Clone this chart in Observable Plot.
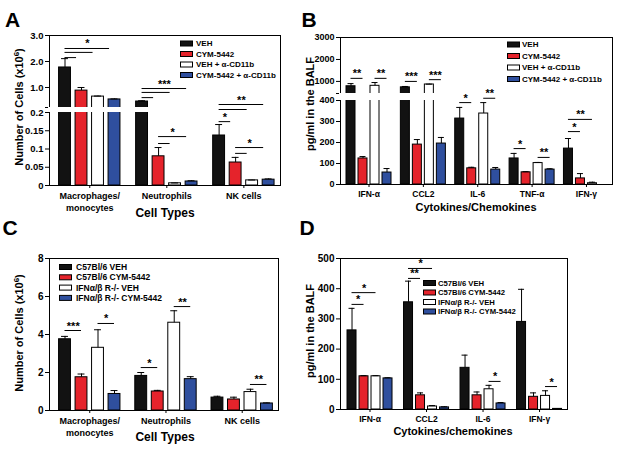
<!DOCTYPE html>
<html><head><meta charset="utf-8">
<script src="https://cdn.jsdelivr.net/npm/d3@7"></script>
<script src="https://cdn.jsdelivr.net/npm/@observablehq/plot@0.6"></script>
<style>
body{margin:0;background:#fff;}
#root{position:relative;width:617px;height:451px;overflow:hidden;background:#fff;font-family:"Liberation Sans",Arial,sans-serif;}
.panel{position:absolute;}
#overlay{position:absolute;left:0;top:0;pointer-events:none;font-family:"Liberation Sans",Arial,sans-serif;font-weight:bold;}
</style></head><body><div id="root">
<div class="panel" id="pA" style="left:0;top:0"></div>
<div class="panel" id="pB" style="left:300px;top:0"></div>
<div class="panel" id="pC" style="left:0;top:225px"></div>
<div class="panel" id="pD" style="left:300px;top:225px"></div>
<svg id="overlay" width="617" height="451"></svg>
</div>
<script>
// ---------- data ----------
const cellTypes = ["Macrophages/\nmonocytes", "Neutrophils", "NK cells"];
const treatmentsAB = ["VEH", "CYM-5442", "VEH + α-CD11b", "CYM-5442 + α-CD11b"];
const genotypesCD = ["C57Bl/6 VEH", "C57Bl/6 CYM-5442", "IFNα/β R-/- VEH", "IFNα/β R-/- CYM-5442"];
const cytokinesB = ["IFN-α", "CCL2", "IL-6", "TNF-α", "IFN-γ"];
const cytokinesD = ["IFN-α", "CCL2", "IL-6", "IFN-γ"];
const seriesColors = ["#121212", "#e5232b", "#ffffff", "#2f4f9e"];

// Panel A: number of cells (x10^6), rows = cell types, cols = treatments
const cellsAMean  = [[1.77, 0.88, 0.65, 0.54], [0.46, 0.080, 0.006, 0.011], [0.137, 0.063, 0.014, 0.016]];
const cellsAUpper = [[2.11, 1.00, 0.67, 0.56], [0.49, 0.104, 0.007, 0.013], [0.167, 0.077, 0.015, 0.018]];
// Panel B: pg/ml in BALF
const cytoBMean  = [[780, 124, 800, 57], [730, 190, 860, 195], [314, 77, 338, 71], [124, 58, 102, 71], [171, 29, 6, null]];
const cytoBUpper = [[900, 133, 950, 76], [770, 214, 875, 224], [367, 82, 390, 81], [148, 61, 105, 75], [219, 52, 11, null]];
// Panel C: number of cells (x10^6)
const cellsCMean  = [[3.75, 1.75, 3.30, 0.87], [1.82, 1.00, 4.62, 1.65], [0.68, 0.58, 0.97, 0.37]];
const cellsCUpper = [[3.90, 1.92, 4.25, 1.05], [2.00, 1.06, 5.25, 1.78], [0.75, 0.70, 1.12, 0.40]];
// Panel D: pg/ml in BALF
const cytoDMean  = [[262, 110, 110, 103], [355, 47, 10, 7], [138, 47, 67, 20], [290, 42, 45, 2]];
const cytoDUpper = [[335, 112, 112, 105], [425, 55, 13, 9], [180, 58, 80, 23], [398, 55, 62, 3]];

// significance brackets: [group, from series, to series, y value, label]
const bracketsA = [
  [0, 0, 3, 2.50, "*"], [0, 0, 2, 2.35, ""], [0, 0, 1, 2.15, ""],
  [1, 0, 3, 0.96, "***"], [1, 0, 2, 0.81, ""], [1, 0, 1, 0.61, ""],
  [1, 1, 3, 0.134, "*"], [1, 1, 2, 0.115, ""],
  [2, 0, 3, 0.345, "**"], [2, 0, 2, 0.218, ""], [2, 0, 1, 0.175, "*"],
  [2, 1, 3, 0.104, "*"], [2, 1, 2, 0.088, ""]
];
const bracketsB = [
  [0, 0, 1, 1140, "**"], [0, 2, 3, 1140, "**"],
  [1, 0, 1, 1000, "***"], [1, 2, 3, 1080, "***"],
  [2, 0, 1, 390, "*"], [2, 2, 3, 416, "**"],
  [3, 0, 1, 171, "*"], [3, 2, 3, 129, "**"],
  [4, 0, 2, 310, "**"], [4, 0, 1, 252, "*"]
];
const bracketsC = [
  [0, 0, 1, 4.21, "***"], [0, 2, 3, 4.58, "*"],
  [1, 0, 1, 2.26, "*"], [1, 2, 3, 5.47, "**"],
  [2, 2, 3, 1.37, "**"]
];
const bracketsD = [
  [0, 0, 2, 387, "*"], [0, 0, 1, 348, "*"],
  [1, 0, 2, 467, "*"], [1, 0, 1, 434, "**"],
  [2, 2, 3, 93, "*"], [3, 2, 3, 76, "*"]
];

// axis ticks
const yTicksA = [0, 0.05, 0.1, 0.15, 0.2, 1, 2, 3];
const yTickLabelsA = ["0", "0.05", "0.1", "0.15", "0.2", "1.0", "2.0", "3.0"];
const yTicksB = [0, 100, 200, 300, 400, 1000, 2000, 3000];
const yTickLabelsB = ["0", "100", "200", "300", "400", "1000", "2000", "3000"];
const yTicksC = [0, 2, 4, 6, 8];
const yTickLabelsC = ["0", "2", "4", "6", "8"];
const yTicksD = [0, 100, 200, 300, 400, 500];
const yTickLabelsD = ["0", "100", "200", "300", "400", "500"];
// broken axes: lower segment top, upper segment bottom, top
const breakA = [0.2, 0.23, 3.0];
const breakB = [400, 450, 3000];

const FONT = '"Liberation Sans", Arial, sans-serif';

function panel(cfg) {
  const {el, width, height, margin, groups, series, means, uppers, brackets,
         xDomain, stride, barHalf, capHalf, endInset, yScale, ticks, tickLabels,
         breakVals, groupFont, tickFont} = cfg;
  const bars = [];
  groups.forEach((g, gi) => series.forEach((s, si) => {
    const m = means[gi][si];
    if (m == null) return;
    bars.push({g, s, x: gi * stride + si, mean: m, upper: uppers[gi][si]});
  }));
  const br = brackets.map(([gi, a, b, yv, label]) => ({x1: gi * stride + a, x2: gi * stride + b - endInset, y: yv, label}));
  const centers = groups.map((g, gi) => ({g, x: gi * stride + (series.length - 1) / 2}));
  const allTicks = breakVals ? [...ticks, breakVals[1]] : ticks;
  const lab = new Map(ticks.map((t, i) => [t, tickLabels[i]]));
  const marks = [
    Plot.frame({stroke: "#000", strokeWidth: 1}),
    Plot.rect(bars, {x1: d => d.x - barHalf, x2: d => d.x + barHalf, y1: 0, y2: "mean", fill: "s", stroke: "#000", strokeWidth: 1}),
    Plot.ruleX(bars, {x: "x", y1: "mean", y2: "upper", stroke: "#000", strokeWidth: 1}),
    Plot.ruleY(bars, {y: "upper", x1: d => d.x - capHalf, x2: d => d.x + capHalf, stroke: "#000", strokeWidth: 1})
  ];
  if (breakVals) marks.push(Plot.rect([0], {y1: breakVals[0], y2: breakVals[1], fill: "white", insetLeft: -1, insetRight: 1}));
  marks.push(Plot.ruleY(br, {y: "y", x1: "x1", x2: "x2", stroke: "#000", strokeWidth: 1}));
  marks.push(Plot.text(br.filter(d => d.label), {x: d => (d.x1 + d.x2) / 2, y: "y", text: "label", lineAnchor: "bottom", dy: -1, fontSize: 11, fontWeight: "bold"}));
  marks.push(Plot.text(centers, {x: "x", text: "g", frameAnchor: "bottom", lineAnchor: "top", dy: 5, fontSize: groupFont, lineHeight: 1.3, fontWeight: "bold"}));
  const chart = Plot.plot({
    width, height,
    marginTop: margin[0], marginRight: margin[1], marginBottom: margin[2], marginLeft: margin[3],
    style: {fontFamily: FONT, fontWeight: "bold", fontSize: tickFont + "px", background: "transparent", overflow: "visible", color: "#000"},
    x: {type: "linear", domain: xDomain, ticks: centers.map(d => d.x), tickFormat: () => "", tickSize: 3, label: null},
    y: Object.assign({type: "linear", ticks: allTicks, tickFormat: d => lab.has(d) ? lab.get(d) : "", tickSize: 4, tickPadding: 2, label: null}, yScale),
    color: {domain: series, range: seriesColors},
    marks
  });
  document.getElementById(el).appendChild(chart);
}

panel({el: "pA", width: 300, height: 225, margin: [35, 20, 40, 49], groups: cellTypes, series: treatmentsAB,
  means: cellsAMean, uppers: cellsAUpper, brackets: bracketsA, xDomain: [-0.94, 13.06], stride: 4.67,
  barHalf: 0.36, capHalf: 0.21, endInset: 0.3,
  yScale: {domain: [0, breakA[0], breakA[1], breakA[2]], range: [185, 112, 107, 35]},
  ticks: yTicksA, tickLabels: yTickLabelsA, breakVals: breakA, groupFont: 9, tickFont: 9.5});

panel({el: "pB", width: 317, height: 225, margin: [37, 5, 41, 40], groups: cytokinesB, series: treatmentsAB,
  means: cytoBMean, uppers: cytoBUpper, brackets: bracketsB, xDomain: [-0.875, 21.79], stride: 4.53,
  barHalf: 0.375, capHalf: 0.25, endInset: 0,
  yScale: {domain: [0, breakB[0], breakB[1], breakB[2]], range: [184, 100, 93, 37]},
  ticks: yTicksB, tickLabels: yTickLabelsB, breakVals: breakB, groupFont: 8.5, tickFont: 9});

panel({el: "pC", width: 300, height: 226, margin: [33, 22, 41, 49], groups: cellTypes, series: genotypesCD,
  means: cellsCMean, uppers: cellsCUpper, brackets: bracketsC, xDomain: [-0.94, 12.94], stride: 4.62,
  barHalf: 0.36, capHalf: 0.21, endInset: 0,
  yScale: {domain: [0, 8]},
  ticks: yTicksC, tickLabels: yTickLabelsC, breakVals: null, groupFont: 9, tickFont: 10});

panel({el: "pD", width: 317, height: 226, margin: [33, 50, 42, 40], groups: cytokinesD, series: genotypesCD,
  means: cytoDMean, uppers: cytoDUpper, brackets: bracketsD, xDomain: [-0.96, 17.96], stride: 4.71,
  barHalf: 0.375, capHalf: 0.25, endInset: 0,
  yScale: {domain: [0, 500]},
  ticks: yTicksD, tickLabels: yTickLabelsD, breakVals: null, groupFont: 8.5, tickFont: 10});

// ---------- titles and legends ----------
const panelLetters = ["A", "B", "C", "D"];
const letterPos = [[12.5, 27], [309, 27], [10, 235], [307, 235]];
const xTitles = ["Cell Types", "Cytokines/Chemokines", "Cell Types", "Cytokines/chemokines"];
const xTitlePos = [[165, 217, 12], [476, 211, 11], [165, 441, 12], [453, 435, 11]];
const yTitles = [["Number of Cells (x10", "6", ")"], ["pg/ml in the BALF"], ["Number of Cells (x10", "6", ")"], ["pg/ml in the BALF"]];
const yTitlePos = [[23, 107], [314, 104], [23, 333], [314, 331]];
const legendSeries = [treatmentsAB, treatmentsAB, genotypesCD, genotypesCD];
const legendPos = [ // swatch x, text x, first row y, row step, font
  [180, 196, 43.5, 10.5, 8], [507, 522, 44.5, 11.5, 8], [59, 76, 267, 10.3, 8.5], [423, 438, 283, 9.5, 7.7]
];

const ov = d3.select("#overlay");
panelLetters.forEach((t, i) => ov.append("text").attr("x", letterPos[i][0]).attr("y", letterPos[i][1])
  .attr("text-anchor", "middle").attr("font-size", 21).text(t));
xTitles.forEach((t, i) => ov.append("text").attr("x", xTitlePos[i][0]).attr("y", xTitlePos[i][1])
  .attr("text-anchor", "middle").attr("font-size", xTitlePos[i][2]).text(t));
yTitles.forEach((parts, i) => {
  const [x, y] = yTitlePos[i];
  const t = ov.append("text").attr("transform", `translate(${x},${y}) rotate(-90)`)
    .attr("text-anchor", "middle").attr("font-size", 11);
  t.append("tspan").text(parts[0]);
  if (parts.length > 1) {
    t.append("tspan").attr("font-size", 8).attr("dy", -4).text(parts[1]);
    t.append("tspan").attr("dy", 4).text(parts[2]);
  }
});
legendSeries.forEach((ser, p) => {
  const [sx, tx, y0, step, fs] = legendPos[p];
  ser.forEach((s, i) => {
    const cy = y0 + i * step;
    ov.append("rect").attr("x", sx + 0.5).attr("y", cy - 2.5).attr("width", 12).attr("height", 5)
      .attr("fill", seriesColors[i]).attr("stroke", "#000").attr("stroke-width", 1);
    ov.append("text").attr("x", tx).attr("y", cy + fs * 0.36).attr("font-size", fs).text(s);
  });
});
</script>
</body></html>
